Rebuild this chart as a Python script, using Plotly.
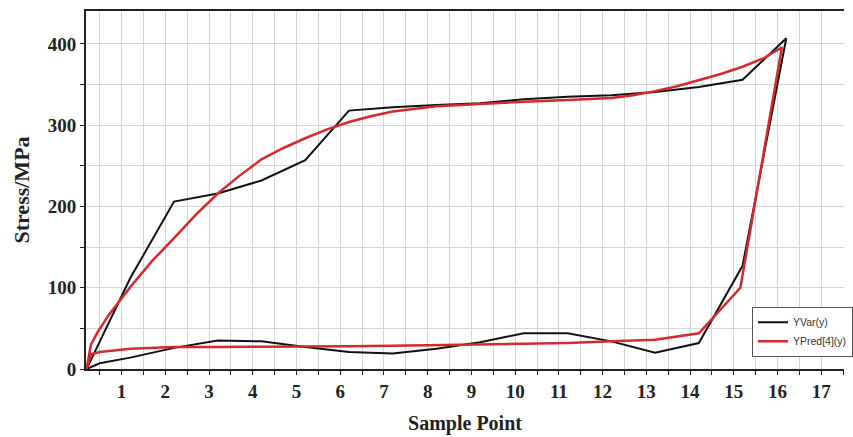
import plotly.graph_objects as go

# Measured series (loop: loading path up to peak, then unloading path back)
yvar_x = [0.2, 1.2, 2.2, 3.2, 4.2, 5.2, 6.2, 7.2, 8.2, 9.2, 10.2, 11.2, 12.2, 13.2, 14.2, 15.2, 16.2,
          15.2, 14.2, 13.2, 12.2, 11.2, 10.2, 9.2, 8.2, 7.2, 6.2, 5.2, 4.2, 3.2, 2.2, 1.2, 0.5, 0.2]
yvar_y = [0, 112, 206, 216, 232, 257, 318, 322, 325, 327, 332, 335, 337, 341, 347, 356, 407,
          127, 32, 20, 34, 44, 44, 33, 25, 19, 21, 27, 34, 35, 26, 14, 7, 0]

# Predicted series
ypred_x = [0.2, 0.3, 0.45, 0.7, 1.2, 1.7, 2.2, 2.7, 3.2, 3.7, 4.2, 4.7, 5.2, 5.7, 6.2, 6.7, 7.2, 8.2, 9.2,
           10.2, 11.2, 12.2, 12.7, 13.2, 13.7, 14.2, 14.7, 15.2, 15.7, 16.1,
           15.15, 14.2, 13.2, 12.2, 11.2, 10.2, 9.2, 8.2, 7.2, 6.2, 5.2, 4.2, 3.2, 2.2, 1.2, 0.5, 0.3, 0.2]
ypred_y = [0, 30, 45, 66, 101, 133, 161, 190, 216, 238, 258, 272, 284, 295, 304, 311, 317, 323.5, 326,
           329, 331, 333.5, 337, 342, 348, 355.7, 363, 372, 383, 396,
           100, 44, 36, 34, 32, 31, 30, 29.5, 28.5, 28, 28, 27.5, 27, 27, 25, 21, 18, 0]

x_tick_vals = list(range(1, 18))
y_tick_vals = [0, 100, 200, 300, 400]

fig = go.Figure()
fig.add_trace(go.Scatter(x=yvar_x, y=yvar_y, mode="lines", name="YVar(y)",
                         line=dict(color="#111111", width=2)))
fig.add_trace(go.Scatter(x=ypred_x, y=ypred_y, mode="lines", name="YPred[4](y)",
                         line=dict(color="#d6282e", width=2.5)))

tick_font = dict(family="Liberation Serif", size=19, color="#222222", weight="bold")
xtitle_font = dict(family="Liberation Serif", size=20, color="#222222", weight="bold")
ytitle_font = dict(family="Liberation Serif", size=22, color="#222222", weight="bold")

fig.update_layout(
    width=853, height=437,
    margin=dict(l=86, r=0, t=11, b=68),
    plot_bgcolor="white", paper_bgcolor="white",
    showlegend=True,
    legend=dict(x=0.879, y=0.174, xanchor="left", yanchor="top",
                bgcolor="white", bordercolor="#555555", borderwidth=1,
                font=dict(family="Liberation Sans", size=10.5, color="#333333"),
                itemwidth=30, tracegroupgap=0),
    xaxis=dict(range=[0.187, 17.52], tickvals=x_tick_vals, ticktext=[str(v) for v in x_tick_vals],
               showgrid=True, gridcolor="#d6d6d6", gridwidth=1,
               minor=dict(dtick=0.5, tick0=0, showgrid=True, gridcolor="#d6d6d6", gridwidth=1,
                          ticks="outside", ticklen=4, tickcolor="#222222"),
               ticks="outside", ticklen=4, tickcolor="#222222",
               showline=True, linecolor="#222222", linewidth=2, mirror=True,
               zeroline=False, tickfont=tick_font,
               title=dict(text="Sample Point", font=xtitle_font, standoff=15)),
    yaxis=dict(range=[0, 440.6], tickvals=y_tick_vals,
               showgrid=True, gridcolor="#d6d6d6", gridwidth=1,
               minor=dict(dtick=50, tick0=0, showgrid=True, gridcolor="#d6d6d6", gridwidth=1,
                          ticks="outside", ticklen=4, tickcolor="#222222"),
               ticks="outside", ticklen=4, tickcolor="#222222",
               showline=True, linecolor="#222222", linewidth=2,
               zeroline=False, tickfont=tick_font,
               title=dict(text="Stress/MPa", font=ytitle_font, standoff=12)),
)

fig.write_html("out.html")
